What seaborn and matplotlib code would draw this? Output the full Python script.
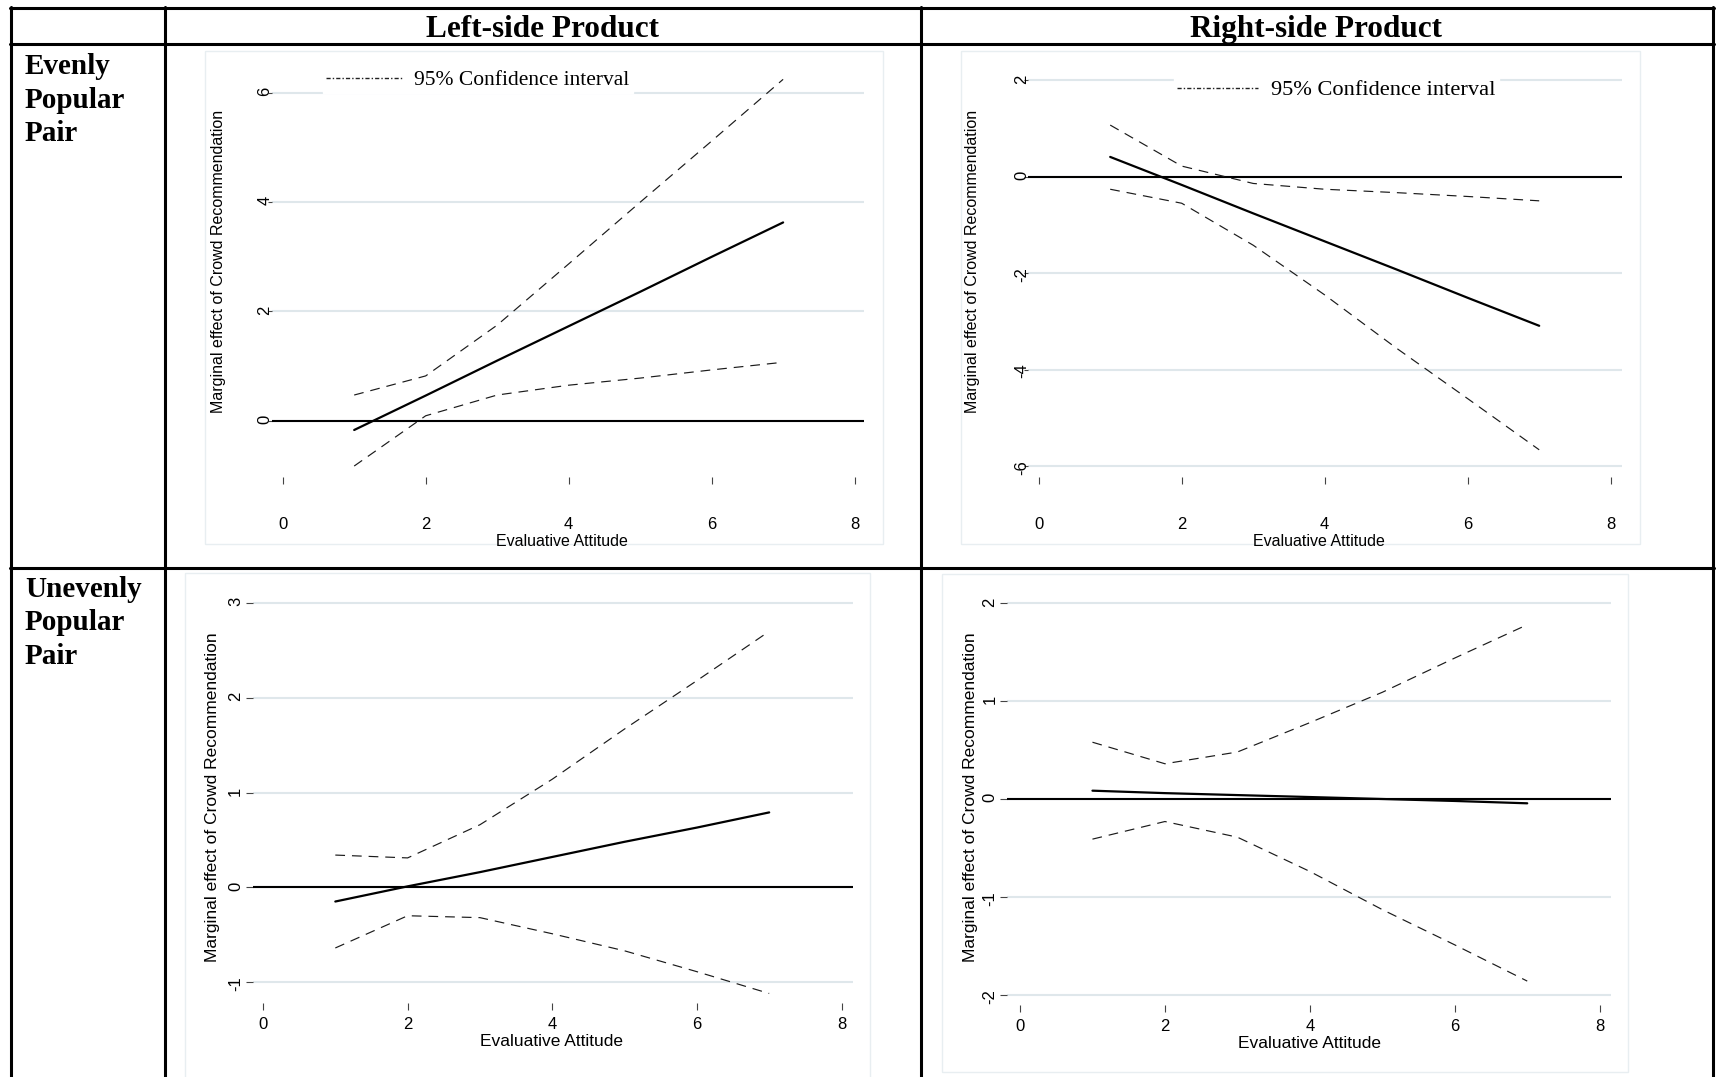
import matplotlib
matplotlib.use("Agg")
import matplotlib.pyplot as plt
from matplotlib.lines import Line2D
from matplotlib.patches import Rectangle
import seaborn as sns
import pandas as pd

# evaluative attitude values where the marginal effect was computed
attitude = [1, 2, 3, 4, 5, 6, 7]

# evenly popular pair, left-side product
even_left_effect = [-0.17, 0.46, 1.10, 1.73, 2.36, 3.00, 3.63]
even_left_hi = [0.47, 0.82, 1.75, 2.87, 4.00, 5.12, 6.25]
even_left_lo = [-0.83, 0.09, 0.47, 0.65, 0.78, 0.93, 1.07]

# evenly popular pair, right-side product
even_right_effect = [0.41, -0.17, -0.76, -1.34, -1.92, -2.51, -3.09]
even_right_hi = [1.07, 0.22, -0.14, -0.26, -0.33, -0.41, -0.50]
even_right_lo = [-0.26, -0.55, -1.42, -2.45, -3.55, -4.60, -5.66]

# unevenly popular pair, left-side product
uneven_left_effect = [-0.15, 0.01, 0.16, 0.32, 0.48, 0.63, 0.79]
uneven_left_hi = [0.34, 0.31, 0.66, 1.14, 1.67, 2.18, 2.70]
uneven_left_lo = [-0.64, -0.30, -0.32, -0.49, -0.67, -0.89, -1.12]

# unevenly popular pair, right-side product
uneven_right_effect = [0.085, 0.06, 0.04, 0.02, 0.00, -0.02, -0.044]
uneven_right_hi = [0.58, 0.36, 0.48, 0.78, 1.09, 1.44, 1.78]
uneven_right_lo = [-0.41, -0.23, -0.39, -0.74, -1.13, -1.49, -1.86]

x_ticks = [0, 2, 4, 6, 8]
col_titles = ["Left-side Product", "Right-side Product"]
row_titles = [["Evenly", "Popular", "Pair"], ["Unevenly", "Popular", "Pair"]]
ylab = "Marginal effect of Crowd Recommendation"
xlab = "Evaluative Attitude"
legend_label = "95% Confidence interval"

W, H = 1718, 1077


def fx(px):
    return px / W


def fy(py):
    return 1 - py / H


sns.set_theme(style="white")
plt.rcParams["font.family"] = ["Liberation Sans", "DejaVu Sans"]
plt.rcParams["lines.scale_dashes"] = False
plt.rcParams["axes.unicode_minus"] = False
for k in ["text.color", "axes.labelcolor", "xtick.labelcolor", "ytick.labelcolor"]:
    plt.rcParams[k] = "black"

fig = plt.figure(figsize=(W / 100, H / 100), dpi=100)
fig.patch.set_facecolor("white")

grid_col = "#dfe7eb"
frame_col = "#e8eef1"


def panel(box, x0, x8, ya, yb, yticks, effect, hi, lo, top_row, ylab_xy, xlab_xy):
    left, top, right, bottom = box
    ax = fig.add_axes([fx(left), fy(bottom), (right - left) / W, (bottom - top) / H])
    ax.set_facecolor("none")
    ppx = (x8 - x0) / 8
    ax.set_xlim((left - x0) / ppx, (right - x0) / ppx)
    (va_, pa), (vb_, pb) = ya, yb
    ppy = (pa - pb) / (vb_ - va_)
    ax.set_ylim(va_ + (pa - bottom) / ppy, va_ + (pa - top) / ppy)

    df = pd.DataFrame({"attitude": attitude, "effect": effect, "hi": hi, "lo": lo})
    ax.axhline(0, color="black", lw=1.5, zorder=3)
    sns.lineplot(data=df, x="attitude", y="hi", color="#1a1a1a", lw=0.85,
                 linestyle=(0, (7, 5)), ax=ax, zorder=4)
    sns.lineplot(data=df, x="attitude", y="lo", color="#1a1a1a", lw=0.85,
                 linestyle=(0, (7, 5)), ax=ax, zorder=4)
    sns.lineplot(data=df, x="attitude", y="effect", color="black", lw=1.6,
                 ax=ax, zorder=5)

    ax.set_xticks(x_ticks)
    ax.set_yticks(yticks)
    ax.grid(axis="y", color=grid_col, lw=1.5)
    ax.grid(axis="x", visible=False)
    for s in ax.spines.values():
        s.set_visible(False)

    if top_row:
        ax.tick_params(axis="x", bottom=True, length=4.75, width=0.8, color="#444444",
                       pad=24.3, labelsize=12)
        ax.tick_params(axis="y", left=True, length=3, width=0.8, color="#444444",
                       pad=-3.5, labelsize=12, labelrotation=90)
        fs = 11.5
    else:
        ax.tick_params(axis="x", bottom=True, length=4.8, width=0.8, color="#444444",
                       pad=5, labelsize=12)
        ax.tick_params(axis="y", left=True, length=5, width=0.8, color="#444444",
                       pad=2, labelsize=12, labelrotation=90)
        fs = 12.5

    ax.set_ylabel(ylab, fontsize=fs, va="center")
    ax.set_xlabel(xlab, fontsize=fs, va="center")
    ax.yaxis.set_label_coords(fx(ylab_xy[0]), fy(ylab_xy[1]), transform=fig.transFigure)
    ax.xaxis.set_label_coords(fx(xlab_xy[0]), fy(xlab_xy[1]), transform=fig.transFigure)
    return ax


ax_tl = panel((271.6, 60, 864.4, 476.7), 282.7, 854.6, (0, 420.7), (6, 93.0),
              [0, 2, 4, 6], even_left_effect, even_left_hi, even_left_lo, True,
              (218, 261), (562, 542))
ax_tr = panel((1028.2, 60, 1622.2, 476.7), 1038.7, 1610.7, (0, 176.7), (-6, 466.2),
              [-6, -4, -2, 0, 2], even_right_effect, even_right_hi, even_right_lo, True,
              (973, 261), (1319, 541.7))
ax_bl = panel((252.7, 585, 853, 1003.3), 263, 841.5, (0, 887.3), (3, 602.9),
              [-1, 0, 1, 2, 3], uneven_left_effect, uneven_left_hi, uneven_left_lo, False,
              (212.5, 797), (551, 1041.7))
ax_br = panel((1007, 585, 1611, 1005), 1020, 1599.7, (0, 799), (2, 603.2),
              [-2, -1, 0, 1, 2], uneven_right_effect, uneven_right_hi, uneven_right_lo, False,
              (970.3, 797), (1309, 1043.3))

# legends for the top row
for ax, (lx, ly), size, hlen in [(ax_tl, (323, 80), 15.5, 3.5), (ax_tr, (1174, 90), 16.1, 3.6)]:
    h = Line2D([], [], color="#222222", lw=1.0, linestyle=(0, (3, 1.5, 1, 1.5)))
    leg = ax.legend(handles=[h], labels=[legend_label], loc="center left",
                    bbox_to_anchor=(fx(lx), fy(ly)), bbox_transform=fig.transFigure,
                    frameon=True, facecolor="white", edgecolor="white", framealpha=1,
                    fancybox=False, borderpad=0.15, borderaxespad=0, handlelength=hlen,
                    handletextpad=0.6, prop={"family": "Liberation Serif", "size": size})
    leg.set_zorder(6)

# faint graph-region frames of the embedded plots
for l, t, r, b in [(205, 51, 883, 544), (961, 51, 1640, 544),
                   (185, 573, 870, 1085), (942, 574, 1628, 1072)]:
    fig.add_artist(Rectangle((fx(l), fy(b)), (r - l) / W, (b - t) / H,
                             transform=fig.transFigure, fill=False,
                             edgecolor=frame_col, lw=1, zorder=0))

# table rules
lw_tab = 2.2
for xv in [11, 165, 920.7, 1713]:
    fig.add_artist(Line2D([fx(xv), fx(xv)], [fy(6.5), fy(1080)], color="black",
                          lw=lw_tab, transform=fig.transFigure))
for yv in [7.5, 43.5, 567.5]:
    fig.add_artist(Line2D([fx(10), fx(1714)], [fy(yv), fy(yv)], color="black",
                          lw=lw_tab, transform=fig.transFigure))

# column headers
for cx, txt in zip([542.5, 1316.5], col_titles):
    fig.text(fx(cx), fy(37), txt, ha="center", va="baseline", fontsize=22.5,
             fontweight="bold", family="Liberation Serif", color="black")

# row headers
for base, lines in zip([74, 597], row_titles):
    for i, word in enumerate(lines):
        fig.text(fx(25), fy(base + 33.5 * i), word, ha="left", va="baseline",
                 fontsize=21, fontweight="bold", family="Liberation Serif", color="black")

fig.savefig("out.png", dpi=100)
